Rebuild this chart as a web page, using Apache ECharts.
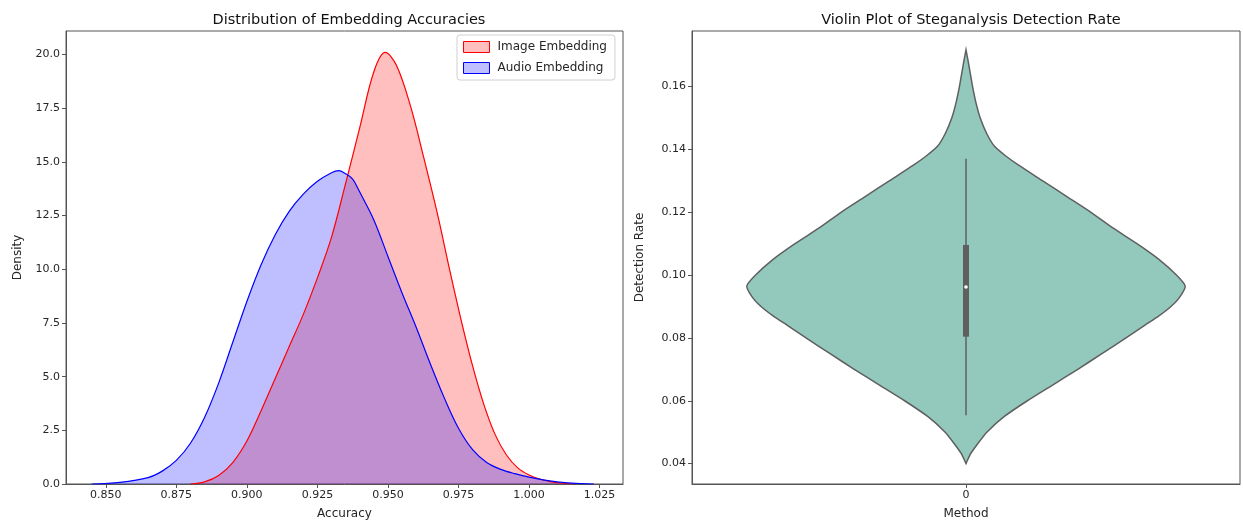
<!DOCTYPE html>
<html>
<head>
<meta charset="utf-8">
<script src="https://cdn.jsdelivr.net/npm/echarts@6/dist/echarts.min.js"></script>
<style>
html,body{margin:0;padding:0;background:#fff;}
#chart{width:1243px;height:525px;}
</style>
</head>
<body>
<div id="chart"></div>
<script>
// ---------- Data ----------
const leftTitle = 'Distribution of Embedding Accuracies';
const rightTitle = 'Violin Plot of Steganalysis Detection Rate';
const seriesNames = ['Image Embedding', 'Audio Embedding'];

const imageX = [0.880,0.885,0.890,0.895,0.900,0.905,0.910,0.915,0.920,0.925,0.930,0.935,0.940,0.945,0.949,0.953,0.958,0.9625,0.9675,0.972,0.976,0.980,0.984,0.988,0.992,0.996,1.000,1.004,1.008,1.012,1.016];
const imageY = [0,0.1,0.4,1.0,2.0,3.4,4.9,6.4,7.9,9.6,11.5,14.0,16.6,19.2,20.1,19.5,17.6,15.3,12.6,9.9,7.6,5.5,3.7,2.3,1.35,0.75,0.42,0.22,0.1,0.035,0];

const audioX = [0.845,0.855,0.865,0.870,0.875,0.880,0.885,0.890,0.895,0.900,0.905,0.910,0.915,0.920,0.925,0.930,0.9325,0.935,0.9375,0.940,0.945,0.950,0.955,0.960,0.965,0.970,0.975,0.980,0.985,0.990,0.995,1.000,1.005,1.010,1.015,1.023];
const audioY = [0,0.08,0.3,0.6,1.1,1.9,3.1,4.7,6.6,8.5,10.2,11.6,12.7,13.5,14.1,14.5,14.6,14.45,14.2,13.6,12.3,10.6,8.9,7.3,5.6,4.0,2.6,1.6,1.0,0.68,0.48,0.32,0.19,0.1,0.04,0];

const kdeXTicks = [0.850,0.875,0.900,0.925,0.950,0.975,1.000,1.025];
const kdeYTicks = [0,2.5,5,7.5,10,12.5,15,17.5,20];

const violinCategories = ['0'];
const violinValues = [0.1717,0.168,0.164,0.160,0.155,0.150,0.145,0.141,0.138,0.135,0.130,0.125,0.120,0.115,0.110,0.105,0.100,0.0965,0.093,0.090,0.087,0.084,0.080,0.075,0.070,0.065,0.060,0.055,0.050,0.046,0.043,0.040];
const violinWidths = [0,0.01,0.02,0.03,0.045,0.065,0.095,0.13,0.18,0.24,0.35,0.46,0.57,0.67,0.78,0.88,0.96,1.0,0.975,0.935,0.88,0.815,0.73,0.62,0.51,0.395,0.28,0.175,0.095,0.05,0.02,0];
const boxStats = {whiskerLow:0.0554, q1:0.0804, median:0.0962, q3:0.1096, whiskerHigh:0.137};
const violinYTicks = [0.04,0.06,0.08,0.10,0.12,0.14,0.16];

// ---------- Chart ----------
const chart = echarts.init(document.getElementById('chart'), null, {renderer:'canvas'});
const FONT = 'DejaVu Sans';
const txt = '#262626';
const spine = '#555';

function zip(xs, ys){ return xs.map((x,i)=>[x, ys[i]]); }

const option = {
  animation:false,
  backgroundColor:'#fff',
  textStyle:{fontFamily:FONT},
  title:[
    {text:leftTitle, left:344, top:8, textAlign:'center', textStyle:{fontFamily:FONT,fontSize:14.5,fontWeight:'normal',color:'#111'}},
    {text:rightTitle, left:966, top:8, textAlign:'center', textStyle:{fontFamily:FONT,fontSize:14.5,fontWeight:'normal',color:'#111'}}
  ],
  legend:{
    orient:'vertical', left:457, top:35,
    icon:'rect', itemWidth:26, itemHeight:11, itemGap:9,
    backgroundColor:'#fff', borderColor:'#d0d0d0', borderWidth:1, borderRadius:3,
    padding:[6,8,6,6],
    textStyle:{fontFamily:FONT,fontSize:12,color:txt,padding:[0,0,0,3]},
    data:[
      {name:seriesNames[0], itemStyle:{color:'rgba(255,0,0,0.25)', borderColor:'#ff0000', borderWidth:1}},
      {name:seriesNames[1], itemStyle:{color:'rgba(0,0,255,0.25)', borderColor:'#0000ff', borderWidth:1}}
    ]
  },
  grid:[
    {left:66, top:31, width:557, height:456, show:true, borderColor:spine, borderWidth:1, backgroundColor:'transparent', containLabel:false},
    {left:692, top:31, width:548, height:456, show:true, borderColor:spine, borderWidth:1, backgroundColor:'transparent', containLabel:false}
  ],
  xAxis:[
    {type:'value', gridIndex:0, min:0.8359, max:1.0333,
     name:'Accuracy', nameLocation:'middle', nameGap:24, nameTextStyle:{fontFamily:FONT,fontSize:12,color:txt},
     axisLine:{show:true,onZero:false,lineStyle:{color:spine,width:1}},
     axisTick:{show:true,length:4,lineStyle:{color:spine}, customValues:kdeXTicks},
     axisLabel:{fontFamily:FONT,fontSize:11,color:txt,margin:6, customValues:kdeXTicks, formatter:v=>v.toFixed(3)},
     splitLine:{show:false}},
    {type:'category', gridIndex:1, data:violinCategories,
     name:'Method', nameLocation:'middle', nameGap:24, nameTextStyle:{fontFamily:FONT,fontSize:12,color:txt},
     axisLine:{show:true,lineStyle:{color:spine,width:1}},
     axisTick:{show:true,length:4,alignWithLabel:true,lineStyle:{color:spine}},
     axisLabel:{fontFamily:FONT,fontSize:11,color:txt,margin:6},
     splitLine:{show:false}}
  ],
  yAxis:[
    {type:'value', gridIndex:0, min:0, max:21.1,
     name:'Density', nameLocation:'middle', nameGap:42, nameTextStyle:{fontFamily:FONT,fontSize:12,color:txt},
     axisLine:{show:true,lineStyle:{color:spine,width:1}},
     axisTick:{show:true,length:4,lineStyle:{color:spine}, customValues:kdeYTicks},
     axisLabel:{fontFamily:FONT,fontSize:11,color:txt,margin:6, customValues:kdeYTicks, formatter:v=>v.toFixed(1)},
     splitLine:{show:false}},
    {type:'value', gridIndex:1, min:0.0335, max:0.1777,
     name:'Detection Rate', nameLocation:'middle', nameGap:46, nameTextStyle:{fontFamily:FONT,fontSize:12,color:txt},
     axisLine:{show:true,lineStyle:{color:spine,width:1}},
     axisTick:{show:true,length:4,lineStyle:{color:spine}, customValues:violinYTicks},
     axisLabel:{fontFamily:FONT,fontSize:11,color:txt,margin:6, customValues:violinYTicks, formatter:v=>v.toFixed(2)},
     splitLine:{show:false}}
  ],
  series:[
    {name:seriesNames[0], type:'line', xAxisIndex:0, yAxisIndex:0, data:zip(imageX,imageY),
     smooth:0.35, showSymbol:false, symbol:'none',
     lineStyle:{color:'#ff0000', width:1.2},
     itemStyle:{color:'#ff0000'},
     areaStyle:{color:'rgba(255,0,0,0.25)', opacity:1, origin:'start'}},
    {name:seriesNames[1], type:'line', xAxisIndex:0, yAxisIndex:0, data:zip(audioX,audioY),
     smooth:0.35, showSymbol:false, symbol:'none',
     lineStyle:{color:'#0000ff', width:1.2},
     itemStyle:{color:'#0000ff'},
     areaStyle:{color:'rgba(0,0,255,0.25)', opacity:1, origin:'start'}},
    {name:'violin', type:'custom', xAxisIndex:1, yAxisIndex:1,
     data:[[0, boxStats.median]],
     renderItem:function(params, api){
       const band = api.size([1,0])[0];
       const maxHalf = band*0.4;
       const center = api.coord([0, boxStats.median])[0];
       const left = [], right = [];
       for(let i=0;i<violinValues.length;i++){
         const y = api.coord([0, violinValues[i]])[1];
         const hw = violinWidths[i]*maxHalf;
         right.push([center+hw, y]);
         left.push([center-hw, y]);
       }
       const pts = right.concat(left.reverse());
       const yq1 = api.coord([0, boxStats.q1])[1];
       const yq3 = api.coord([0, boxStats.q3])[1];
       const ylo = api.coord([0, boxStats.whiskerLow])[1];
       const yhi = api.coord([0, boxStats.whiskerHigh])[1];
       const ymed = api.coord([0, boxStats.median])[1];
       return {type:'group', children:[
         {type:'polygon', shape:{points:pts, smooth:0.2}, style:{fill:'#93c9bd', stroke:'#5f5f5f', lineWidth:1.5}},
         {type:'line', shape:{x1:center,y1:yhi,x2:center,y2:ylo}, style:{stroke:'#5f5f5f', lineWidth:1.5}},
         {type:'rect', shape:{x:center-3,y:yq3,width:6,height:yq1-yq3}, style:{fill:'#5f5f5f'}},
         {type:'circle', shape:{cx:center,cy:ymed,r:1.8}, style:{fill:'#fff'}}
       ]};
     }}
  ]
};
chart.setOption(option);
</script>
</body>
</html>
